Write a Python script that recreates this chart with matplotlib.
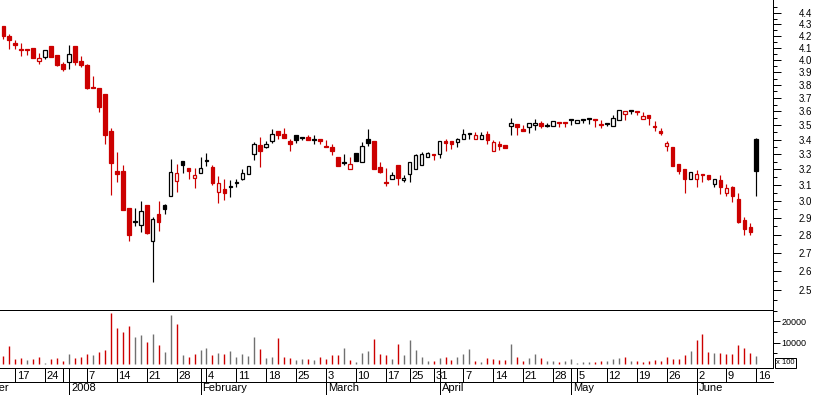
import numpy as np
import pandas as pd
import matplotlib
matplotlib.use("Agg")
import matplotlib.pyplot as plt
from matplotlib.patches import Rectangle
from matplotlib.ticker import FixedLocator, FixedFormatter, NullFormatter
import matplotlib.transforms as mtransforms

plt.rcParams['font.family'] = ['Liberation Sans', 'DejaVu Sans']

# ---------------- data ----------------
holidays = ["2007-12-25", "2007-12-26", "2008-01-01", "2008-03-21", "2008-03-24", "2008-05-01"]
calendar_start = "2007-12-03"
first_date = "2007-12-13"
last_date = "2008-06-16"
prior_close = 4.30

open_ = [4.285, 4.199, 4.139, 4.085, 4.090, 4.098, 3.988, 4.020, 4.114, 4.040,
         3.967, 3.981, 4.114, 3.990, 3.958, 3.785, 3.778, 3.732, 3.461, 3.191,
         3.191, 2.960, 2.882, 2.855, 2.978, 2.764, 2.924, 2.978, 3.029, 3.123,
         3.257, 3.210, 3.142, 3.173, 3.263, 3.215, 3.056, 3.077, 3.095, 3.121,
         3.140, 3.170, 3.301, 3.362, 3.351, 3.388, 3.461, 3.440, 3.392, 3.433,
         3.419, 3.419, 3.404, 3.406, 3.353, 3.351, 3.283, 3.250, 3.204, 3.310,
         3.245, 3.404, 3.392, 3.217, 3.118, 3.138, 3.230, 3.132, 3.167, 3.202,
         3.226, 3.278, 3.304, 3.300, 3.392, 3.388, 3.383, 3.404, 3.448, 3.404,
         3.404, 3.442, 3.319, 3.371, 3.360, 3.494, 3.513, 3.473, 3.485, 3.503,
         3.520, 3.500, 3.496, 3.525, 3.525, 3.547, 3.516, 3.545, 3.550, 3.544,
         3.513, 3.518, 3.494, 3.540, 3.583, 3.612, 3.605, 3.547, 3.571, 3.496,
         3.461, 3.353, 3.351, 3.237, 3.204, 3.138, 3.138, 3.170, 3.163, 3.104,
         3.134, 3.050, 3.086, 3.010, 2.884, 2.847, 3.404]
high = [4.285, 4.216, 4.165, 4.139, 4.090, 4.098, 4.054, 4.078, 4.114, 4.040,
        3.983, 4.125, 4.114, 4.032, 3.967, 3.871, 3.778, 3.732, 3.483, 3.317,
        3.230, 2.960, 2.955, 3.002, 2.978, 2.906, 3.002, 2.984, 3.270, 3.237,
        3.257, 3.210, 3.210, 3.283, 3.308, 3.230, 3.159, 3.140, 3.134, 3.140,
        3.202, 3.222, 3.383, 3.419, 3.388, 3.473, 3.461, 3.483, 3.406, 3.433,
        3.419, 3.433, 3.433, 3.406, 3.394, 3.371, 3.283, 3.302, 3.283, 3.310,
        3.385, 3.473, 3.392, 3.250, 3.210, 3.180, 3.230, 3.165, 3.250, 3.300,
        3.317, 3.317, 3.304, 3.392, 3.404, 3.392, 3.410, 3.476, 3.448, 3.454,
        3.450, 3.461, 3.394, 3.392, 3.360, 3.554, 3.513, 3.501, 3.515, 3.547,
        3.533, 3.516, 3.533, 3.525, 3.525, 3.547, 3.538, 3.545, 3.550, 3.544,
        3.536, 3.518, 3.571, 3.610, 3.605, 3.612, 3.605, 3.598, 3.571, 3.530,
        3.481, 3.387, 3.351, 3.237, 3.204, 3.183, 3.197, 3.170, 3.163, 3.140,
        3.161, 3.104, 3.090, 3.051, 2.906, 2.868, 3.411]
low = [4.176, 4.090, 4.092, 4.034, 4.035, 4.018, 3.969, 4.005, 4.026, 3.950,
       3.913, 3.929, 3.961, 3.943, 3.765, 3.775, 3.593, 3.369, 3.035, 3.116,
       2.944, 2.764, 2.853, 2.815, 2.804, 2.543, 2.820, 2.924, 3.029, 3.058,
       3.173, 3.136, 3.078, 3.173, 3.224, 3.097, 2.988, 3.004, 3.022, 3.085,
       3.134, 3.170, 3.263, 3.212, 3.344, 3.376, 3.406, 3.408, 3.319, 3.373,
       3.394, 3.394, 3.370, 3.372, 3.347, 3.292, 3.219, 3.228, 3.204, 3.252,
       3.245, 3.353, 3.204, 3.173, 3.091, 3.138, 3.097, 3.118, 3.116, 3.202,
       3.226, 3.278, 3.258, 3.274, 3.319, 3.336, 3.351, 3.404, 3.404, 3.404,
       3.404, 3.369, 3.319, 3.330, 3.340, 3.429, 3.429, 3.462, 3.443, 3.465,
       3.479, 3.488, 3.496, 3.488, 3.488, 3.503, 3.516, 3.516, 3.513, 3.490,
       3.479, 3.496, 3.494, 3.540, 3.537, 3.583, 3.576, 3.547, 3.503, 3.458,
       3.431, 3.319, 3.224, 3.167, 3.050, 3.138, 3.085, 3.116, 3.130, 3.085,
       3.040, 3.030, 2.996, 2.868, 2.798, 2.798, 3.033]
close = [4.202, 4.168, 4.125, 4.080, 4.080, 4.018, 4.015, 4.078, 4.026, 3.961,
         3.929, 4.048, 3.985, 3.961, 3.780, 3.780, 3.630, 3.429, 3.239, 3.167,
         2.944, 2.798, 2.873, 2.942, 2.813, 2.894, 2.873, 2.954, 3.185, 3.176,
         3.226, 3.190, 3.165, 3.210, 3.252, 3.110, 3.110, 3.051, 3.084, 3.110,
         3.176, 3.222, 3.369, 3.319, 3.371, 3.438, 3.429, 3.408, 3.366, 3.395,
         3.408, 3.394, 3.397, 3.393, 3.347, 3.319, 3.224, 3.241, 3.238, 3.252,
         3.358, 3.373, 3.204, 3.180, 3.111, 3.165, 3.142, 3.146, 3.250, 3.294,
         3.300, 3.305, 3.292, 3.392, 3.373, 3.370, 3.404, 3.438, 3.442, 3.431,
         3.433, 3.394, 3.380, 3.353, 3.345, 3.518, 3.485, 3.462, 3.515, 3.520,
         3.494, 3.498, 3.533, 3.518, 3.518, 3.535, 3.538, 3.541, 3.545, 3.537,
         3.500, 3.507, 3.556, 3.610, 3.605, 3.607, 3.598, 3.569, 3.551, 3.485,
         3.449, 3.373, 3.224, 3.190, 3.135, 3.183, 3.170, 3.165, 3.135, 3.140,
         3.085, 3.080, 3.033, 2.873, 2.833, 2.815, 3.187]
volume = [3440, 8140, 2350, 2820, 1570, 2030, 3290, 470, 2350, 2820,
          1410, 4700, 2820, 3290, 4700, 4230, 5320, 6260, 23630, 16900,
          14710, 17840, 12680, 13620, 10020, 14090, 8920, 5320, 23010, 18780,
          4230, 3290, 4700, 6570, 7510, 4230, 5160, 4700, 6100, 3290,
          4700, 3760, 12680, 7040, 2820, 3290, 12210, 3290, 2820, 1880,
          2350, 2350, 1880, 3290, 2350, 4230, 4230, 7510, 1880, 940,
          5160, 6100, 11740, 4700, 4230, 2350, 9390, 4230, 11270, 6570,
          3290, 1410, 1410, 2820, 3290, 1880, 3290, 4700, 7040, 1410,
          940, 2820, 2350, 1880, 1880, 9390, 3290, 1410, 2820, 4700,
          2820, 1410, 1410, 940, 1410, 2350, 200, 940, 940, 940,
          1410, 1410, 2350, 2820, 3290, 1410, 1410, 940, 1410, 1880,
          1410, 3290, 2350, 2350, 4230, 6100, 11270, 14090, 5630, 5160,
          5160, 4700, 4700, 8920, 7510, 5160, 3760]

week_dates = ["2007-12-17", "2007-12-24", "2007-12-31", "2008-01-07", "2008-01-14",
              "2008-01-21", "2008-01-28", "2008-02-04", "2008-02-11", "2008-02-18",
              "2008-02-25", "2008-03-03", "2008-03-10", "2008-03-17", "2008-03-25",
              "2008-03-31", "2008-04-07", "2008-04-14", "2008-04-21", "2008-04-28",
              "2008-05-05", "2008-05-12", "2008-05-19", "2008-05-26", "2008-06-02",
              "2008-06-09", "2008-06-16"]
week_labels = ["17", "24", "", "7", "14", "21", "28", "4", "11", "18", "25", "3", "10",
               "17", "25", "31", "7", "14", "21", "28", "5", "12", "19", "26", "2", "9", "16"]
month_dates = ["2007-12-03", "2008-01-02", "2008-02-01", "2008-03-03", "2008-04-01",
               "2008-05-02", "2008-06-02"]
month_labels = ["December", "2008", "February", "March", "April", "May", "June"]

price_tick_labels = ["2.5", "2.6", "2.7", "2.8", "2.9", "3.0", "3.1", "3.2", "3.3", "3.4",
                     "3.5", "3.6", "3.7", "3.8", "3.9", "4.0", "4.1", "4.2", "4.3", "4.4"]
price_minor = [2.45, 2.55, 2.65, 2.75, 2.85, 2.95, 3.05, 3.15, 3.25, 3.35, 3.45, 3.55,
               3.65, 3.75, 3.85, 3.95, 4.05, 4.15, 4.25, 4.35, 4.45]
vol_tick_labels = ["10000", "20000"]
vol_minor = [5000, 15000, 25000]

# ---------------- figure ----------------
W, H = 817, 395
PX = 72.0 / 100.0
LW = 1.0 * PX  # one-pixel lines
fig = plt.figure(figsize=(W / 100, H / 100), dpi=100)


def rect(x0, y0, x1, y1):
    return [x0 / W, 1 - y1 / H, (x1 - x0) / W, (y1 - y0) / H]


RIGHT = 772.5
ax = fig.add_axes(rect(0, 0, RIGHT, 309.5))
axv = fig.add_axes(rect(0, 309.5, RIGHT, 367.5))
axd = fig.add_axes(rect(0, 367.5, RIGHT, 395))
for a in (ax, axv):
    a.patch.set_visible(False)

trading_days = pd.bdate_range(calendar_start, last_date, freq="C", holidays=holidays)
first_pos = trading_days.get_loc(pd.Timestamp(first_date))


def xpos(d):
    return trading_days.get_loc(pd.Timestamp(d)) - first_pos


o = np.array(open_)
hi = np.array(high)
lo = np.array(low)
c = np.array(close)
v = np.array(volume)
x = np.arange(len(trading_days))[first_pos:] - first_pos

prev = np.concatenate([[prior_close], c[:-1]])
up = c > prev
vol_down = c < prev
hollow = c > o

RED = '#cc0000'
BLACK = '#000000'
GRAY = '#707070'
col = np.where(up, BLACK, RED)
face = np.where(hollow, 'white', col)

XLIM = (-0.552, -0.552 + RIGHT / 5.976)

# candles
ax.vlines(x, lo, hi, colors=col, lw=0.85, zorder=2)
ax.bar(x, np.abs(c - o), bottom=np.minimum(o, c), width=0.6, color=face,
       edgecolor=col, linewidth=0.9, zorder=3)
ax.set_yscale('log')
ax.set_ylim(2.405, 4.518)
ax.set_xlim(XLIM)
ax.set_xticks([])
ax.yaxis.tick_right()
ax.yaxis.set_major_locator(FixedLocator([float(t) for t in price_tick_labels]))
ax.yaxis.set_major_formatter(FixedFormatter(price_tick_labels))
ax.yaxis.set_minor_locator(FixedLocator(price_minor))
ax.yaxis.set_minor_formatter(NullFormatter())
ax.tick_params(axis='y', which='major', length=8 * PX, width=LW, pad=13, labelsize=7)
ax.tick_params(axis='y', which='minor', length=4 * PX, width=LW)
for s in ['top', 'left']:
    ax.spines[s].set_visible(False)
for s in ['right', 'bottom']:
    ax.spines[s].set_linewidth(LW)
    ax.spines[s].set_color('black')

# volume
axv.vlines(x, 0, v, colors=np.where(vol_down, RED, GRAY), lw=1.0)
axv.set_xlim(XLIM)
axv.set_ylim(-1740, 25500)
axv.set_xticks([])
axv.yaxis.tick_right()
axv.yaxis.set_major_locator(FixedLocator([float(t) for t in vol_tick_labels]))
axv.yaxis.set_major_formatter(FixedFormatter(vol_tick_labels))
axv.yaxis.set_minor_locator(FixedLocator(vol_minor))
axv.yaxis.set_minor_formatter(NullFormatter())
axv.tick_params(axis='y', which='major', length=7 * PX, width=LW, pad=1.5, labelsize=6.5)
axv.tick_params(axis='y', which='minor', length=4 * PX, width=LW)
axv.spines['left'].set_visible(False)
for s in ['right', 'bottom', 'top']:
    axv.spines[s].set_linewidth(LW)
    axv.spines[s].set_color('black')

# x 100 box
fig.patches.append(Rectangle((774.5 / W, 1 - 367.5 / H), 21 / W, 10 / H, transform=fig.transFigure,
                             facecolor='white', edgecolor='black', lw=LW))
fig.text(785 / W, 1 - 362.5 / H, "x 100", ha='center', va='center', fontsize=5.5)

# date axis
axd.set_xlim(XLIM)
axd.set_ylim(0, 27.5)
axd.axis('off')
axd.plot(XLIM, [13.5, 13.5], color='black', lw=LW, clip_on=False)
wk_x = [xpos(d) for d in week_dates]
mo_x = [xpos(d) for d in month_dates]
axd.vlines(wk_x, 13.5, 27.5, colors='black', lw=LW)
axd.vlines(mo_x, 0, 27.5, colors='black', lw=LW, clip_on=False)
tday = mtransforms.offset_copy(axd.transData, fig=fig, x=1.5, y=0, units='dots')
tmon = mtransforms.offset_copy(axd.transData, fig=fig, x=2.0, y=0, units='dots')
for xi, lab in zip(wk_x, week_labels):
    axd.text(xi, 16, lab, transform=tday, ha='left', va='baseline', fontsize=8, zorder=1)
for xi, lab in zip(mo_x, month_labels):
    axd.text(xi, 4, lab, transform=tmon, ha='left', va='baseline', fontsize=8)

fig.savefig("out.png", dpi=100)
